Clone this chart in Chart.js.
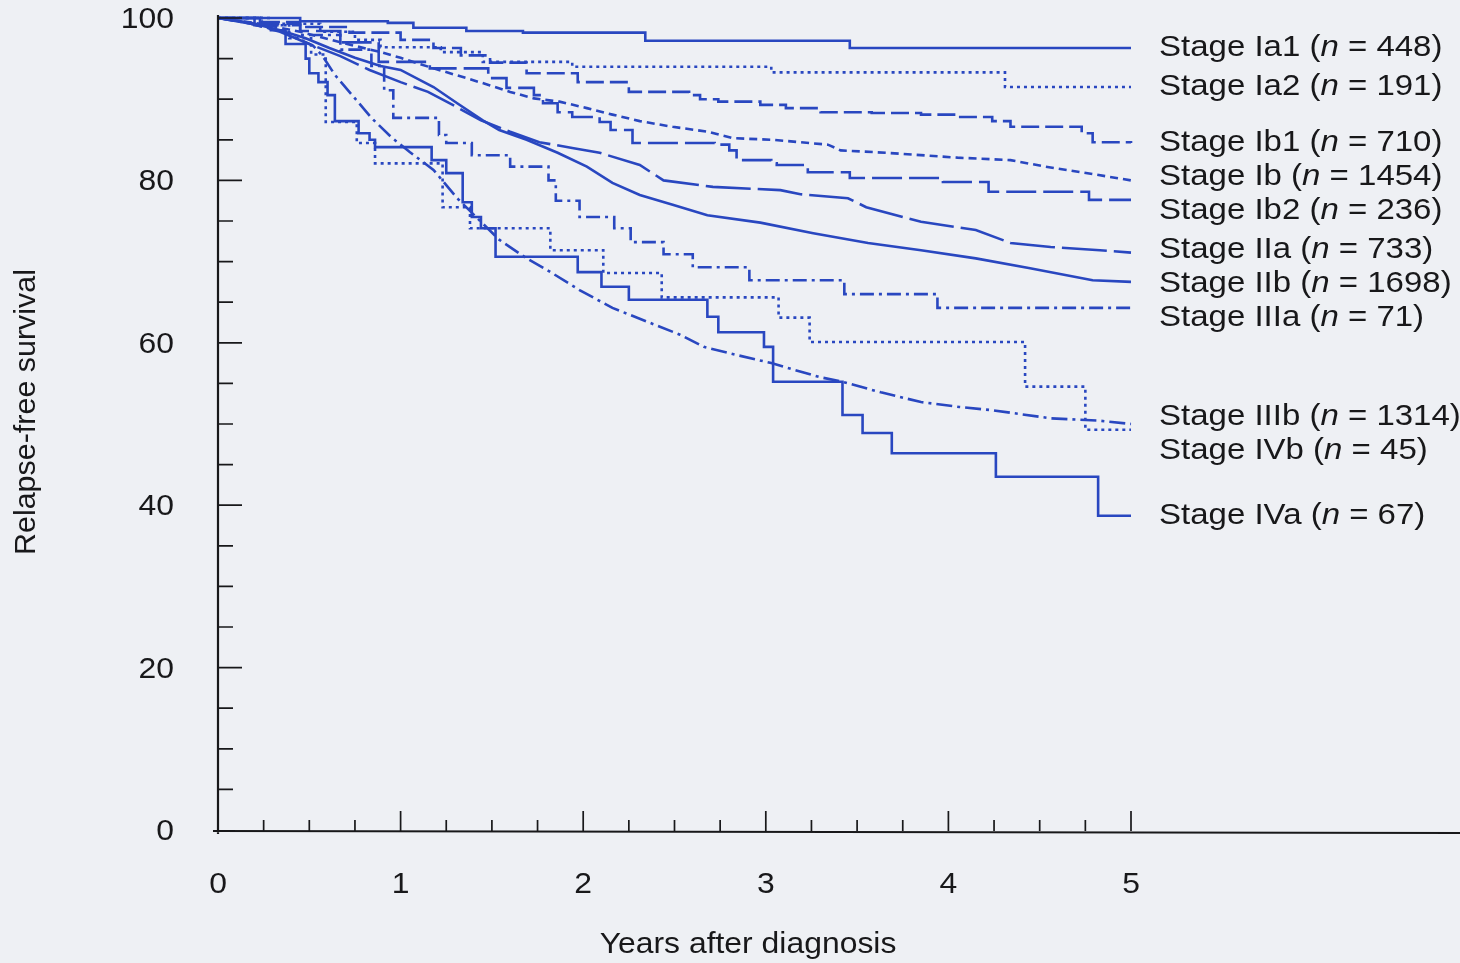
<!DOCTYPE html>
<html>
<head>
<meta charset="utf-8">
<title>Relapse-free survival by stage</title>
<script src="https://cdn.jsdelivr.net/npm/chart.js"></script>
<style>
  html, body { margin: 0; padding: 0; background: #eef0f4; }
  canvas { display: block; }
</style>
</head>
<body>
<canvas id="kmChart" width="1460" height="963"></canvas>
<script>
// Kaplan-Meier curves: years after diagnosis vs relapse-free survival (%)
const ia1Years = [0, 0.45, 0.93, 1.07, 1.36, 1.67, 2.34, 3.46, 5];
const ia1Surv  = [100, 99.6, 99.4, 98.8, 98.4, 98.2, 97.2, 96.3, 96.3];

const ia2Years = [0, 0.29, 0.56, 0.75, 0.89, 1.22, 1.45, 1.94, 3.03, 4.31, 5];
const ia2Surv  = [100, 99.3, 98.3, 97.3, 96.4, 95.8, 94.6, 94.0, 93.3, 91.5, 91.5];

const ib1Years = [0, 0.23, 0.45, 0.72, 1.0, 1.18, 1.33, 1.49, 1.69, 1.97, 2.25, 2.58, 2.64, 2.74, 2.97, 3.11, 3.3, 3.58, 3.85, 4.05, 4.24, 4.34, 4.73, 4.79, 5];
const ib1Surv  = [100, 99.5, 98.9, 98.2, 97.3, 96.3, 95.4, 94.5, 93.2, 92.1, 90.9, 90.5, 90.0, 89.7, 89.3, 88.9, 88.4, 88.3, 88.1, 87.8, 87.3, 86.6, 85.8, 84.7, 84.6];

const ibYears = [0, 0.23, 0.45, 0.67, 0.89, 1.0, 1.18, 1.36, 1.49, 1.6, 1.73, 1.87, 2.02, 2.16, 2.31, 2.49, 2.68, 2.82, 3.04, 3.34, 3.41, 3.66, 4.05, 4.34, 4.53, 4.73, 5];
const ibSurv  = [100, 99.3, 98.3, 97.0, 95.8, 95.1, 93.8, 92.6, 91.7, 90.9, 90.1, 89.7, 88.9, 88.1, 87.3, 86.6, 86.0, 85.2, 85.0, 84.4, 83.7, 83.4, 82.8, 82.5, 81.7, 81.0, 80.0];

const ib2Years = [0, 0.23, 0.45, 0.67, 0.88, 1.16, 1.48, 1.58, 1.73, 1.78, 1.86, 1.94, 2.09, 2.15, 2.27, 2.72, 2.8, 2.84, 3.03, 3.06, 3.23, 3.46, 3.97, 4.22, 4.77, 5];
const ib2Surv  = [100, 99.3, 98.4, 97.0, 94.6, 93.8, 92.6, 91.4, 90.5, 89.5, 88.4, 87.8, 87.2, 86.2, 84.6, 84.4, 83.7, 82.5, 82.1, 81.9, 81.0, 80.3, 79.8, 78.6, 77.6, 77.6];

const iiaYears = [0, 0.18, 0.34, 0.5, 0.67, 0.83, 1.0, 1.15, 1.31, 1.44, 1.6, 1.76, 1.94, 2.09, 2.31, 2.44, 2.71, 3.08, 3.19, 3.45, 3.55, 3.85, 4.15, 4.34, 4.56, 4.83, 5];
const iiaSurv  = [100, 99.3, 98.3, 96.8, 95.3, 93.6, 92.1, 90.9, 89.0, 87.4, 86.0, 84.7, 84.0, 83.4, 81.9, 80.0, 79.2, 78.8, 78.3, 77.8, 76.7, 74.9, 73.9, 72.3, 71.8, 71.4, 71.1];

const iibYears = [0, 0.18, 0.34, 0.48, 0.61, 0.75, 0.89, 1.0, 1.18, 1.31, 1.45, 1.54, 1.69, 1.86, 2.02, 2.16, 2.31, 2.49, 2.68, 2.97, 3.26, 3.56, 3.85, 4.15, 4.44, 4.79, 5];
const iibSurv  = [100, 99.4, 98.5, 97.5, 96.3, 95.1, 94.1, 93.6, 91.5, 89.5, 87.4, 86.2, 85.0, 83.4, 81.7, 79.7, 78.2, 77.0, 75.7, 74.8, 73.5, 72.3, 71.4, 70.4, 69.2, 67.7, 67.5];

const iiiaYears = [0, 0.24, 0.45, 0.67, 0.84, 0.91, 0.96, 1.21, 1.25, 1.39, 1.6, 1.81, 1.85, 1.98, 2.17, 2.26, 2.44, 2.6, 2.91, 3.43, 3.94, 5];
const iiiaSurv  = [100, 99.1, 97.9, 96.1, 94.1, 91.1, 87.7, 85.6, 84.6, 83.1, 81.7, 80.0, 77.5, 75.5, 74.1, 72.4, 70.9, 69.3, 67.7, 66.0, 64.3, 64.3];

const iiibYears = [0, 0.18, 0.34, 0.45, 0.52, 0.57, 0.64, 0.75, 0.84, 0.95, 1.05, 1.18, 1.31, 1.44, 1.54, 1.69, 1.8, 1.98, 2.16, 2.35, 2.53, 2.66, 2.84, 3.03, 3.29, 3.42, 3.63, 3.85, 4.06, 4.24, 4.56, 4.83, 5];
const iiibSurv  = [100, 99.3, 98.4, 97.3, 96.6, 95.4, 93.0, 90.1, 87.7, 85.3, 83.5, 81.3, 77.8, 74.9, 72.7, 70.4, 69.0, 66.5, 64.3, 62.6, 61.0, 59.5, 58.5, 57.5, 55.8, 55.2, 53.9, 52.7, 52.1, 51.7, 50.7, 50.4, 50.0];

const ivbYears = [0, 0.24, 0.39, 0.51, 0.59, 0.76, 0.86, 1.23, 1.38, 1.82, 2.11, 2.43, 3.07, 3.24, 4.42, 4.75, 5];
const ivbSurv  = [100, 99.1, 97.5, 95.5, 87.2, 84.6, 82.1, 76.7, 74.1, 71.4, 68.6, 65.6, 63.1, 60.1, 54.6, 49.3, 49.3];

const ivaYears = [0, 0.2, 0.29, 0.37, 0.48, 0.5, 0.55, 0.6, 0.64, 0.77, 0.83, 0.86, 1.17, 1.25, 1.34, 1.39, 1.44, 1.52, 1.97, 2.1, 2.25, 2.68, 2.74, 2.99, 3.04, 3.42, 3.53, 3.69, 4.26, 4.82, 5];
const ivaSurv  = [100, 99.1, 98.5, 96.8, 95.0, 93.2, 92.1, 90.5, 87.3, 85.8, 85.0, 84.1, 82.5, 80.9, 77.3, 75.5, 74.1, 70.6, 68.7, 66.9, 65.3, 63.2, 61.3, 59.5, 55.2, 51.1, 48.9, 46.4, 43.5, 38.7, 38.7];

const stageNames  = ['Ia1', 'Ia2', 'Ib1', 'Ib', 'Ib2', 'IIa', 'IIb', 'IIIa', 'IIIb', 'IVb', 'IVa'];
const stageCounts = [448, 191, 710, 1454, 236, 733, 1698, 71, 1314, 45, 67];

// line style per stage (dash pattern, step drawing for the smaller groups)
const stageStyles = [
    { years: ia1Years,  surv: ia1Surv,  dash: [],            stepped: true },
    { years: ia2Years,  surv: ia2Surv,  dash: [3, 4],        stepped: true },
    { years: ib1Years,  surv: ib1Surv,  dash: [18, 6],       stepped: true },
    { years: ibYears,   surv: ibSurv,   dash: [8, 5],        stepped: false },
    { years: ib2Years,  surv: ib2Surv,  dash: [30, 7],       stepped: true },
    { years: iiaYears,  surv: iiaSurv,  dash: [45, 7],       stepped: false },
    { years: iibYears,  surv: iibSurv,  dash: [],            stepped: false },
    { years: iiiaYears, surv: iiiaSurv, dash: [14, 5, 3, 5], stepped: true },
    { years: iiibYears, surv: iiibSurv, dash: [16, 5, 3, 5], stepped: false },
    { years: ivbYears,  surv: ivbSurv,  dash: [3, 4],        stepped: true },
    { years: ivaYears,  surv: ivaSurv,  dash: [],            stepped: true }
];

const lineBlue = '#2947c0';
const inkColor = '#18181a';
const FONT = '"Liberation Sans", Arial, Helvetica, sans-serif';

const datasets = stageStyles.map((s, i) => ({
    label: 'Stage ' + stageNames[i],
    data: s.years.map((t, k) => ({ x: t, y: s.surv[k] })),
    borderColor: lineBlue,
    borderWidth: 2.6,
    borderDash: s.dash,
    stepped: s.stepped ? 'before' : false,
    tension: 0,
    fill: false,
    pointRadius: 0,
    clip: 6
}));

// text drawn a little wider than the normal face, like the printed figure
function wideText(ctx, parts, x, y, size, align, sx) {
    ctx.save();
    ctx.translate(x, y);
    ctx.scale(sx, 1);
    const fonts = parts.map(p => (p[1] ? 'italic ' : '') + size + 'px ' + FONT);
    const widths = parts.map((p, k) => { ctx.font = fonts[k]; return ctx.measureText(p[0]).width; });
    const total = widths.reduce((a, b) => a + b, 0);
    let cx = align === 'right' ? -total : (align === 'center' ? -total / 2 : 0);
    ctx.textAlign = 'left';
    ctx.textBaseline = 'middle';
    ctx.fillStyle = inkColor;
    parts.forEach((p, k) => {
        ctx.font = fonts[k];
        ctx.fillText(p[0], cx, 0);
        cx += widths[k];
    });
    ctx.restore();
}

// spread the right-hand labels: push crowded ones down, then lift each crowded group a little
function spreadLabels(ends, gap) {
    const pushed = ends.map(e => e.py);
    for (let k = 1; k < ends.length; k++) {
        ends[k].py = Math.max(ends[k].py, ends[k - 1].py + gap);
    }
    let start = 0;
    for (let k = 1; k <= ends.length; k++) {
        if (k === ends.length || ends[k].py - ends[k - 1].py > gap + 0.5) {
            let sum = 0;
            for (let j = start; j < k; j++) sum += ends[j].py - pushed[j];
            const lift = sum / (k - start) / 2;
            for (let j = start; j < k; j++) ends[j].py -= lift;
            start = k;
        }
    }
    return ends;
}

// axes with inward ticks, tick labels, titles and the stage labels at the right
const paperAxes = {
    id: 'paperAxes',
    afterDraw(chart) {
        const { ctx, chartArea: a, scales: { x, y } } = chart;
        ctx.save();
        ctx.strokeStyle = inkColor;
        ctx.lineWidth = 2.2;
        ctx.beginPath();
        ctx.moveTo(a.left, a.top - 3);
        ctx.lineTo(a.left, a.bottom + 4);
        ctx.moveTo(a.left - 5, a.bottom + 1);
        ctx.lineTo(chart.width, a.bottom + 3);
        ctx.stroke();

        ctx.lineWidth = 1.7;
        ctx.beginPath();
        for (let v = 5; v <= 100; v += 5) {
            const py = y.getPixelForValue(v);
            ctx.moveTo(a.left, py);
            ctx.lineTo(a.left + (v % 20 === 0 ? 24 : 15), py);
        }
        for (let q = 1; q <= 20; q++) {
            const px = x.getPixelForValue(q / 4);
            ctx.moveTo(px, a.bottom + 1);
            ctx.lineTo(px, a.bottom + 1 - (q % 4 === 0 ? 20 : 11));
        }
        ctx.stroke();
        ctx.restore();

        y.ticks.forEach(t => {
            wideText(ctx, [[String(t.value)]], a.left - 44, y.getPixelForValue(t.value) + 2, 29, 'right', 1.1);
        });
        x.ticks.forEach(t => {
            wideText(ctx, [[String(t.value)]], x.getPixelForValue(t.value), a.bottom + 55, 29, 'center', 1.1);
        });

        wideText(ctx, [['Years after diagnosis']], 748, 945, 29, 'center', 1.1);
        ctx.save();
        ctx.translate(27, 412);
        ctx.rotate(-Math.PI / 2);
        wideText(ctx, [['Relapse-free survival']], 0, 0, 29, 'center', 1.05);
        ctx.restore();

        // stage labels sit at each curve's end value
        const ends = chart.data.datasets.map((ds, i) => ({
            i,
            py: y.getPixelForValue(ds.data[ds.data.length - 1].y)
        })).sort((p, q) => p.py - q.py);
        spreadLabels(ends, 34).forEach(e => {
            const parts = [['Stage ' + stageNames[e.i] + ' ('], ['n', true], [' = ' + stageCounts[e.i] + ')']];
            wideText(ctx, parts, a.right + 28, e.py, 30, 'left', 1.1);
        });
    }
};

const ctx = document.getElementById('kmChart').getContext('2d');
const kmChart = new Chart(ctx, {
    type: 'line',
    data: { datasets: datasets },
    options: {
        responsive: false,
        animation: false,
        devicePixelRatio: 1,
        layout: { padding: { left: 0, right: 329, top: 18, bottom: 0 } },
        plugins: { legend: { display: false }, tooltip: { enabled: false } },
        scales: {
            x: {
                type: 'linear',
                min: 0,
                max: 5,
                ticks: { display: false, stepSize: 1 },
                grid: { display: false },
                border: { display: false },
                afterFit: s => { s.height = 133; }
            },
            y: {
                min: 0,
                max: 100,
                ticks: { display: false, stepSize: 20 },
                grid: { display: false },
                border: { display: false },
                afterFit: s => { s.width = 218; }
            }
        }
    },
    plugins: [paperAxes]
});
</script>
</body>
</html>
